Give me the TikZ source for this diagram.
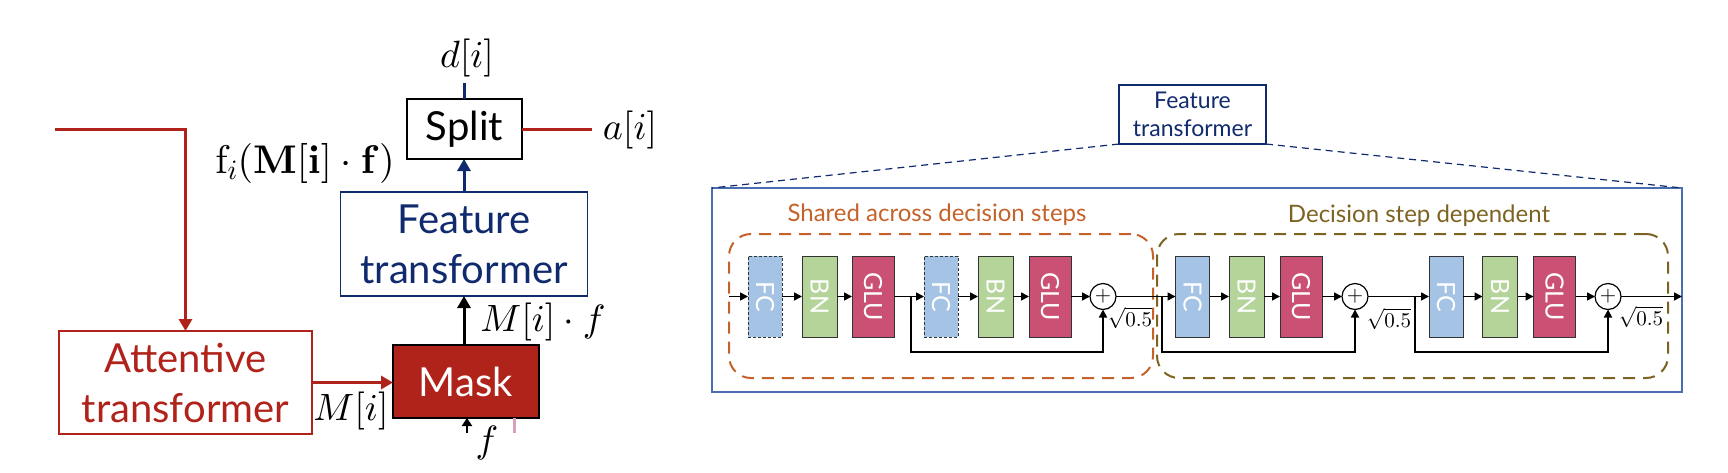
\documentclass[tikz,border=0pt]{standalone}
\usepackage[no-math]{fontspec}
\usepackage{graphicx}
\setmainfont{Lato}
\DeclareFontShape{OML}{cmm}{m}{it}{<->cmmi10}{}
\DeclareFontShape{OML}{cmm}{b}{it}{<->cmmib10}{}
\DeclareFontShape{OT1}{cmr}{m}{n}{<->cmr10}{}
\DeclareFontShape{OT1}{cmr}{bx}{n}{<->cmbx10}{}
\DeclareFontShape{OMS}{cmsy}{m}{n}{<->cmsy10}{}
\DeclareFontShape{OMX}{cmex}{m}{n}{<->cmex10}{}
\usetikzlibrary{arrows.meta}
\definecolor{tred}{HTML}{B0231A}
\definecolor{navy}{HTML}{102A6E}
\definecolor{bigblue}{HTML}{4A6CB0}
\definecolor{orng}{HTML}{C4622A}
\definecolor{olive}{HTML}{7D6321}
\definecolor{fcblue}{HTML}{A5C3E4}
\definecolor{bngreen}{HTML}{B4D49A}
\definecolor{glupink}{HTML}{CA5074}
\definecolor{pinkline}{HTML}{D9A0BC}
\begin{document}
\begin{tikzpicture}[x=1pt,y=-1pt,
  every node/.style={inner sep=0pt,outer sep=0pt},
  bigtxt/.style={font=\fontsize{40}{50}\selectfont,align=center},
  mathlbl/.style={font=\fontsize{38}{40}\selectfont},
  thick3/.style={line width=3pt},
  bigtip/.style={-{Triangle[length=12pt,width=13pt]}},
  blk/.style={draw=black!80,line width=1pt,minimum height=81pt,text=white,font=\fontsize{25}{25}\selectfont},
  fcdash/.style={densely dashed},
  plusnode/.style={draw,circle,line width=1.2pt,minimum size=26pt,font=\fontsize{21}{21}\selectfont},
  arr/.style={line width=1.6pt,-{Triangle[length=8pt,width=8pt]}},
  rootlbl/.style={font=\fontsize{21}{21}\selectfont},
  grouplbl/.style={font=\fontsize{24}{26}\selectfont},
  groupbox/.style={dash pattern=on 12pt off 8pt,line width=2pt,rounded corners=22pt,minimum height=144pt}
]
\useasboundingbox (0,0) rectangle (1728,472);

% ---------------- left diagram ----------------
\node[draw=tred,line width=1.5pt,text=tred,minimum width=253pt,minimum height=103pt,bigtxt] (att) at (185.5,382.5) {Attentive\\transformer};
\node[draw=black,fill=tred,line width=1.5pt,text=white,minimum width=146pt,minimum height=73pt,bigtxt] (mask) at (466,381.5) {Mask};
\node[draw=navy,line width=1.5pt,text=navy,minimum width=247pt,minimum height=104pt,bigtxt] (ftl) at (464,244) {Feature\\transformer};
\node[draw=black,line width=1.5pt,minimum width=115pt,minimum height=60pt,bigtxt] (split) at (464.5,129) {Split};

\coordinate (tin) at (55,129);
\draw[tred,thick3,bigtip] (tin) -| (att.north);
\draw[tred,thick3,bigtip] (att.east) -- (att.east -| mask.west);
\draw[black,thick3,bigtip] (mask.north -| ftl.south) -- (ftl.south);
\draw[navy,thick3,bigtip] (ftl.north) -- (ftl.north |- split.south);
\coordinate (dtop) at (464.5,83);
\draw[navy,thick3] (split.north) -- (dtop);
\coordinate (aend) at (592,128);
\draw[tred,thick3] (split.east) -- (split.east -| aend);
\coordinate (fin) at (467,433);
\draw[black,line width=2.5pt,-{Triangle[length=8pt,width=10pt]}] (fin) -- (fin |- mask.south);
\coordinate (pk) at (514,433);
\draw[pinkline,thick3] (pk) -- (pk |- mask.south);

\node[mathlbl] (dl) at (467,58) {$d[i]$};
\node[mathlbl] (al) at (630,130) {$a[i]$};
\node[mathlbl] (ml) at (351,411) {$M[i]$};
\node[mathlbl] (mfl) at (543,322) {$M[i]\cdot f$};
\node[mathlbl] (fl) at (487,443) {$f$};
\node[font=\fontsize{40}{42}\selectfont] (fil) at (305,163) {$\mathrm{f}_i(\mathbf{M}[\mathbf{i}]\cdot\mathbf{f})$};

% ---------------- right diagram ----------------
\node[draw=bigblue,line width=1.2pt,minimum width=970pt,minimum height=204pt] (big) at (1197,290) {};
\node[draw=navy,line width=1.2pt,minimum width=147pt,minimum height=59pt,text=navy,font=\fontsize{23}{28}\selectfont,align=center] (fts) at (1192.5,114.5) {Feature\\transformer};
\draw[navy,line width=1.2pt,dash pattern=on 7pt off 5pt] (fts.south west) -- (big.north west);
\draw[navy,line width=1.2pt,dash pattern=on 7pt off 5pt] (fts.south east) -- (big.north east);

\node[draw=orng,groupbox,minimum width=424pt] (shared) at (941,306) {};
\node[draw=olive,groupbox,minimum width=511pt] (dep) at (1412.5,306) {};
\node[grouplbl,text=orng] (sharedl) at (937,215) {Shared across decision steps};
\node[grouplbl,text=olive] (depl) at (1419,216) {Decision step dependent};

\node[blk,fill=fcblue,fcdash,minimum width=34pt] (fc1) at (765,296.5) {\rotatebox{-90}{FC}};
\node[blk,fill=bngreen,minimum width=35pt] (bn1) at (819.5,296.5) {\rotatebox{-90}{BN}};
\node[blk,fill=glupink,minimum width=42pt] (glu1) at (873,296.5) {\rotatebox{-90}{GLU}};
\node[blk,fill=fcblue,fcdash,minimum width=34pt] (fc2) at (941,296.5) {\rotatebox{-90}{FC}};
\node[blk,fill=bngreen,minimum width=35pt] (bn2) at (995.5,296.5) {\rotatebox{-90}{BN}};
\node[blk,fill=glupink,minimum width=42pt] (glu2) at (1050,296.5) {\rotatebox{-90}{GLU}};
\node[plusnode] (p1) at (1103,296.5) {$+$};

\node[blk,fill=fcblue,minimum width=34pt] (fc3) at (1192.5,296.5) {\rotatebox{-90}{FC}};
\node[blk,fill=bngreen,minimum width=35pt] (bn3) at (1246.5,296.5) {\rotatebox{-90}{BN}};
\node[blk,fill=glupink,minimum width=42pt] (glu3) at (1301,296.5) {\rotatebox{-90}{GLU}};
\node[plusnode] (p2) at (1355,296.5) {$+$};

\node[blk,fill=fcblue,minimum width=34pt] (fc4) at (1446,296.5) {\rotatebox{-90}{FC}};
\node[blk,fill=bngreen,minimum width=35pt] (bn4) at (1500,296.5) {\rotatebox{-90}{BN}};
\node[blk,fill=glupink,minimum width=42pt] (glu4) at (1554.5,296.5) {\rotatebox{-90}{GLU}};
\node[plusnode] (p3) at (1608,296.5) {$+$};

\coordinate (in) at (729,296.5);
\coordinate (out) at (1682,296.5);
\draw[arr] (in) -- (fc1);
\draw[arr] (fc1) -- (bn1);
\draw[arr] (bn1) -- (glu1);
\draw[arr] (glu1) -- (fc2);
\draw[arr] (fc2) -- (bn2);
\draw[arr] (bn2) -- (glu2);
\draw[arr] (glu2) -- (p1);
\draw[arr] (p1) -- (fc3);
\draw[arr] (fc3) -- (bn3);
\draw[arr] (bn3) -- (glu3);
\draw[arr] (glu3) -- (p2);
\draw[arr] (p2) -- (fc4);
\draw[arr] (fc4) -- (bn4);
\draw[arr] (bn4) -- (glu4);
\draw[arr] (glu4) -- (p3);
\draw[arr] (p3) -- (out);

\coordinate (b1) at (911,296.5);
\coordinate (s1) at (911,352);
\coordinate (b2) at (1162,296.5);
\coordinate (s2) at (1162,352);
\coordinate (b3) at (1415,296.5);
\coordinate (s3) at (1415,352);
\draw[arr] (b1) -- (s1) -| (p1.south);
\draw[arr] (b2) -- (s2) -| (p2.south);
\draw[arr] (b3) -- (s3) -| (p3.south);

\node[rootlbl] (r1) at (1130,318) {$\sqrt{0.5}$};
\node[rootlbl] (r2) at (1389,319) {$\sqrt{0.5}$};
\node[rootlbl] (r3) at (1641,317) {$\sqrt{0.5}$};
\end{tikzpicture}
\end{document}
